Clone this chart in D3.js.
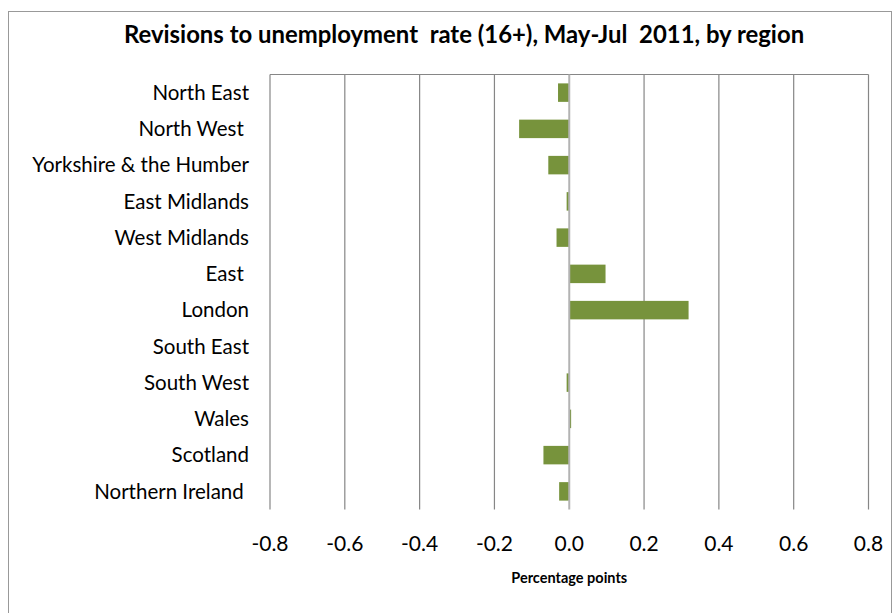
<!DOCTYPE html>
<html><head><meta charset="utf-8">
<script src="https://cdn.jsdelivr.net/npm/d3@7"></script>
<style>body{margin:0;background:#fff}svg{display:block}text{font-family:Lato,"Open Sans",sans-serif;fill:#000}</style>
</head><body><svg id="c" width="893" height="613"></svg>
<script>
const regions = ["North East","North West ","Yorkshire & the Humber","East Midlands","West Midlands","East ","London","South East","South West","Wales","Scotland","Northern Ireland "];
const revisions = [-0.030,-0.134,-0.056,-0.007,-0.034,0.097,0.319,0.001,-0.007,0.005,-0.069,-0.027];
const xTicks = [-0.8,-0.6,-0.4,-0.2,0,0.2,0.4,0.6,0.8];
const title = "Revisions to unemployment  rate (16+), May-Jul  2011, by region";
const xTitle = "Percentage points";

const svg = d3.select("#c");
const L=270, R=868.5, T=74.5, B=509.5;
svg.append("rect").attr("x",8.5).attr("y",11.5).attr("width",883).attr("height",620).attr("fill","none").attr("stroke","#999").attr("stroke-width",1);
const x = d3.scaleLinear().domain([-0.8,0.8]).range([L,R]);
const y = d3.scaleBand().domain(regions).range([T,B]).paddingInner(0.49).paddingOuter(0.245);

svg.append("g").selectAll("line").data(xTicks.filter(d=>d!==0)).join("line")
  .attr("x1",d=>x(d)).attr("x2",d=>x(d)).attr("y1",T).attr("y2",B).attr("stroke","#868686").attr("stroke-width",1.2);
svg.append("line").attr("x1",L).attr("x2",R).attr("y1",T).attr("y2",T).attr("stroke","#868686").attr("stroke-width",1.2);

svg.append("g").selectAll("rect").data(revisions).join("rect")
  .attr("x",d=>x(Math.min(0,d))).attr("width",d=>Math.abs(x(d)-x(0)))
  .attr("y",(d,i)=>y(regions[i])).attr("height",y.bandwidth()).attr("fill","#77933c");

svg.append("line").attr("x1",x(0)).attr("x2",x(0)).attr("y1",T).attr("y2",B).attr("stroke","#b3b3b3").attr("stroke-width",2);

svg.append("g").selectAll("text").data(regions).join("text")
  .attr("x",249).attr("y",d=>y(d)+y.bandwidth()/2).attr("dy","0.35em").attr("text-anchor","end")
  .attr("font-size",20.5).style("white-space","pre").text(d=>d);

svg.append("g").selectAll("text").data(xTicks).join("text")
  .attr("x",d=>x(d)).attr("y",551).attr("text-anchor","middle").attr("font-size",21)
  .text(d=>d3.format(".1f")(d).replace("\u2212","-"));

svg.append("text").attr("x",x(0)).attr("y",583).attr("text-anchor","middle").attr("font-size",14.5).attr("font-weight","bold").text(xTitle);
svg.append("text").attr("x",464).attr("y",43).attr("text-anchor","middle").attr("font-size",23.9).attr("font-weight","bold").style("white-space","pre").text(title);
</script></body></html>
